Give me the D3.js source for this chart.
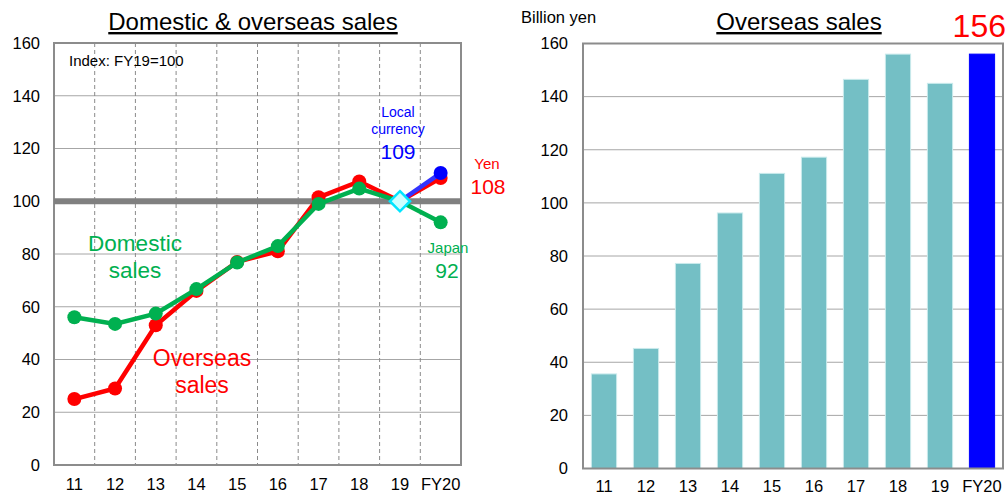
<!DOCTYPE html>
<html>
<head>
<meta charset="utf-8">
<script src="https://cdn.jsdelivr.net/npm/d3@7"></script>
<style>
  body { margin: 0; background: #fff; }
  svg { font-family: "Liberation Sans", Arial, sans-serif; }
</style>
</head>
<body>
<svg id="chart" width="1007" height="496"></svg>
<script>
// data
const years = ["11", "12", "13", "14", "15", "16", "17", "18", "19", "FY20"];
const overseasIdx = [25, 29, 53, 66, 77, 81, 101.5, 107.5, 100, 108.8];
const domesticIdx = [56, 53.5, 57.4, 66.7, 76.8, 83, 99, 104.8, 100, 92];
const localCurrency = [{ year: "19", v: 100 }, { year: "FY20", v: 110.7 }];
const overseasSales = [35.6, 45.2, 77.2, 96.2, 111.1, 117.2, 146.5, 156, 145, 156];
const yTicks = [0, 20, 40, 60, 80, 100, 120, 140, 160];

const svg = d3.select("#chart");
const gridColor = "#a6a6a6";
const frameColor = "#8c8c8c";
const tickFont = 16.5;

// ---- left: domestic & overseas index ----
let left = { x0: 54, x1: 461, y0: 43, y1: 465 };
let xL = d3.scaleBand().domain(years).range([left.x0, left.x1]);
let yL = d3.scaleLinear().domain([0, 160]).range([left.y1, left.y0]);

let gL = svg.append("g");

gL.selectAll("line.hgrid").data(yTicks).enter().append("line")
    .attr("x1", left.x0).attr("x2", left.x1)
    .attr("y1", d => yL(d)).attr("y2", d => yL(d))
    .attr("stroke", gridColor).attr("stroke-width", 1);

// dashed separators between years
gL.selectAll("line.vgrid").data(years.slice(1)).enter().append("line")
    .attr("x1", d => xL(d)).attr("x2", d => xL(d))
    .attr("y1", left.y0).attr("y2", left.y1)
    .attr("stroke", "#8a8a8a").attr("stroke-width", 1)
    .attr("stroke-dasharray", "4,3");

gL.append("rect")
    .attr("x", left.x0).attr("y", left.y0)
    .attr("width", left.x1 - left.x0).attr("height", left.y1 - left.y0)
    .attr("fill", "none").attr("stroke", frameColor).attr("stroke-width", 2);

// thick FY19=100 reference line
gL.append("line")
    .attr("x1", left.x0).attr("x2", left.x1)
    .attr("y1", yL(100)).attr("y2", yL(100))
    .attr("stroke", "#808080").attr("stroke-width", 6);

let axL = gL.append("g").attr("transform", `translate(${left.x0},0)`)
    .call(d3.axisLeft(yL).tickValues(yTicks).tickSize(0).tickPadding(14));
axL.select(".domain").remove();
axL.selectAll("text").attr("font-size", tickFont).attr("fill", "#000")
    .attr("font-family", "Liberation Sans, Arial, sans-serif");

let axLb = gL.append("g").attr("transform", `translate(0,${left.y1})`)
    .call(d3.axisBottom(xL).tickSize(0).tickPadding(13));
axLb.select(".domain").remove();
axLb.selectAll("text").attr("font-size", tickFont).attr("fill", "#000")
    .attr("font-family", "Liberation Sans, Arial, sans-serif");

let cx = d => xL.bandwidth() / 2 + xL(d);
let lineGen = d3.line().x(d => cx(d.year)).y(d => yL(d.v));

let overseasPts = years.map((y, i) => ({ year: y, v: overseasIdx[i] }));
let domesticPts = years.map((y, i) => ({ year: y, v: domesticIdx[i] }));

gL.append("path").datum(overseasPts).attr("d", lineGen)
    .attr("fill", "none").attr("stroke", "#ff0000").attr("stroke-width", 4.5);
gL.selectAll("circle.ov").data(overseasPts.filter(d => d.year != "19")).enter().append("circle")
    .attr("cx", d => cx(d.year)).attr("cy", d => yL(d.v)).attr("r", 7)
    .attr("fill", "#ff0000");

gL.append("path").datum(localCurrency).attr("d", lineGen)
    .attr("fill", "none").attr("stroke", "#3333ff").attr("stroke-width", 4.5);
gL.append("circle").attr("cx", cx("FY20")).attr("cy", yL(localCurrency[1].v)).attr("r", 7)
    .attr("fill", "#0000ff");

gL.append("path").datum(domesticPts).attr("d", lineGen)
    .attr("fill", "none").attr("stroke", "#00b050").attr("stroke-width", 4.5);
gL.selectAll("circle.dm").data(domesticPts.filter(d => d.year != "19")).enter().append("circle")
    .attr("cx", d => cx(d.year)).attr("cy", d => yL(d.v)).attr("r", 7)
    .attr("fill", "#00b050");

// diamond at FY19 = 100
gL.append("path")
    .attr("d", d3.symbol(d3.symbolDiamond2, 260)())
    .attr("transform", `translate(${cx("19")},${yL(100)})`)
    .attr("fill", "#ccffff").attr("stroke", "#00e5ff").attr("stroke-width", 2.5);

// labels
let txt = (g, x, y, s, size, color, anchor) => g.append("text")
    .attr("x", x).attr("y", y).attr("font-size", size).attr("fill", color)
    .attr("text-anchor", anchor || "middle").text(s);

txt(gL, 253, 30, "Domestic & overseas sales", 24, "#000").attr("text-decoration", "underline");
txt(gL, 69, 66, "Index: FY19=100", 15, "#000", "start");
txt(gL, 135, 251, "Domestic", 22.5, "#00b050");
txt(gL, 135, 278, "sales", 22.5, "#00b050");
txt(gL, 202, 366, "Overseas", 23, "#ff0000");
txt(gL, 202, 393, "sales", 23, "#ff0000");
txt(gL, 398, 117, "Local", 14, "#0000ff");
txt(gL, 398, 134, "currency", 14, "#0000ff");
txt(gL, 398, 159, "109", 21, "#0000ff");
txt(gL, 487, 169, "Yen", 15, "#ff0000");
txt(gL, 488, 194, "108", 21, "#ff0000");
txt(gL, 448, 253, "Japan", 15, "#00b050");
txt(gL, 447, 278, "92", 21, "#00b050");

// ---- right: overseas sales bars ----
let right = { x0: 583, x1: 1003, y0: 43.5, y1: 468.5 };
let xR = d3.scaleBand().domain(years).range([right.x0, right.x1]).paddingInner(0.4).paddingOuter(0.2);
let yR = d3.scaleLinear().domain([0, 160]).range([right.y1, right.y0]);

let gR = svg.append("g");

gR.selectAll("line.hgrid").data(yTicks).enter().append("line")
    .attr("x1", right.x0).attr("x2", right.x1)
    .attr("y1", d => yR(d)).attr("y2", d => yR(d))
    .attr("stroke", gridColor).attr("stroke-width", 1);

gR.selectAll("rect.bar").data(overseasSales).enter().append("rect")
    .attr("x", (d, i) => xR(years[i]))
    .attr("y", d => yR(d))
    .attr("width", xR.bandwidth())
    .attr("height", d => yR(0) - yR(d))
    .attr("fill", (d, i) => years[i] == "FY20" ? "#0000ff" : "#74bfc5")
    .attr("stroke", (d, i) => years[i] == "FY20" ? "#0000ff" : "#c9eaec")
    .attr("stroke-width", 1);

gR.append("rect")
    .attr("x", right.x0).attr("y", right.y0)
    .attr("width", right.x1 - right.x0).attr("height", right.y1 - right.y0)
    .attr("fill", "none").attr("stroke", frameColor).attr("stroke-width", 2);

let axR = gR.append("g").attr("transform", `translate(${right.x0},0)`)
    .call(d3.axisLeft(yR).tickValues(yTicks).tickSize(0).tickPadding(15));
axR.select(".domain").remove();
axR.selectAll("text").attr("font-size", tickFont).attr("fill", "#000")
    .attr("font-family", "Liberation Sans, Arial, sans-serif");

let axRb = gR.append("g").attr("transform", `translate(0,${right.y1})`)
    .call(d3.axisBottom(xR).tickSize(0).tickPadding(12));
axRb.select(".domain").remove();
axRb.selectAll("text").attr("font-size", tickFont).attr("fill", "#000")
    .attr("font-family", "Liberation Sans, Arial, sans-serif");

txt(gR, 521, 23, "Billion yen", 16.5, "#000", "start");
txt(gR, 799, 30, "Overseas sales", 24, "#000").attr("text-decoration", "underline");
txt(gR, 1006, 37, "156", 32, "#ff0000", "end");
</script>
</body>
</html>
